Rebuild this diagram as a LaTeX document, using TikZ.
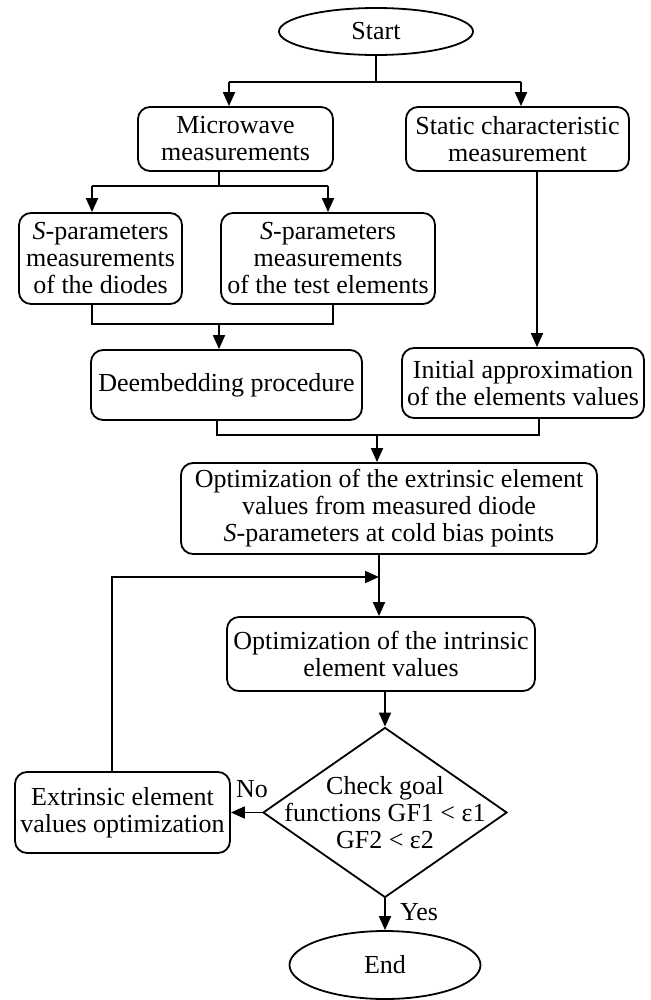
\documentclass[tikz,border=0pt]{standalone}
\usepackage{fontspec}
\setmainfont{Liberation Serif}
\usetikzlibrary{arrows.meta,shapes.geometric}

\begin{document}
\begin{tikzpicture}[x=0.5pt, y=-0.5pt, line width=0.9pt,
  font=\fontsize{13}{13.5}\selectfont,
  proc/.style={draw, rounded corners=6pt, align=center, inner sep=1pt},
  term/.style={draw, ellipse, inner sep=0pt},
  cond/.style={draw, diamond, inner sep=0pt},
  arr/.style={-{Triangle[length=7pt, width=6pt]}}]
  \useasboundingbox (0,0) rectangle (651,1000);
  % blocks
  \node[term, minimum width=97pt, minimum height=23.5pt] (start) at (376,31.5) {Start};
  \node[proc, minimum width=97.5pt, minimum height=32pt] (microwave) at (235.5,139) {Microwave\\measurements};
  \node[proc, minimum width=111.5pt, minimum height=32pt] (static) at (517.5,139) {Static characteristic\\measurement};
  \node[proc, minimum width=81.5pt, minimum height=45.5pt] (sdiode) at (100.5,258.5) {\textit{S}-parameters\\measurements\\of the diodes};
  \node[proc, minimum width=107pt, minimum height=45.5pt] (stest) at (328,258.5) {\textit{S}-parameters\\measurements\\of the test elements};
  \node[proc, minimum width=135.5pt, minimum height=35pt] (deembed) at (226.5,385) {Deembedding procedure};
  \node[proc, minimum width=121pt, minimum height=35pt] (initial) at (523,383) {Initial approximation\\of the elements values};
  \node[proc, minimum width=208pt, minimum height=45.5pt] (optext) at (389,508.5) {Optimization of the extrinsic element\\values from measured diode\\\textit{S}-parameters at cold bias points};
  \node[proc, minimum width=154pt, minimum height=37pt] (optint) at (381,654) {Optimization of the intrinsic\\element values};
  \node[cond, minimum width=122pt, minimum height=85pt] (check) at (385,812.5) {};
  \node[align=center, inner sep=0pt] (checktxt) at (check) {Check goal\\functions GF1 < ε1\\GF2 < ε2};
  \node[proc, minimum width=107.5pt, minimum height=40.5pt] (extr) at (122.5,812.5) {Extrinsic element\\values optimization};
  \node[term, minimum width=95.5pt, minimum height=34pt] (end) at (385,965) {End};
  \node (no) at (252,789) {No};
  \node (yes) at (419,912) {Yes};
  % junctions
  \coordinate (j1) at (376,82);  \coordinate (j1l) at (229,82);  \coordinate (j1r) at (521,82);
  \coordinate (j2) at (219,186); \coordinate (j2l) at (92,186);  \coordinate (j2r) at (328,186);
  \coordinate (j3) at (219,324); \coordinate (j3l) at (92,324);  \coordinate (j3r) at (333,324);
  \coordinate (j4) at (377,435); \coordinate (j4l) at (217,435); \coordinate (j4r) at (539,435);
  \coordinate (sx) at (537,250);
  \coordinate (fb) at (112,577); \coordinate (fbend) at (379,577);
  % connectors
  \draw (start.south -| j1) -- (j1);
  \draw (j1l) -- (j1r);
  \draw[arr] (j1l) -- (microwave.north -| j1l);
  \draw[arr] (j1r) -- (static.north -| j1r);
  \draw (microwave.south -| j2) -- (j2);
  \draw (j2l) -- (j2r);
  \draw[arr] (j2l) -- (sdiode.north -| j2l);
  \draw[arr] (j2r) -- (stest.north -| j2r);
  \draw[arr] (static.south -| sx) -- (initial.north -| sx);
  \draw (sdiode.south -| j3l) -- (j3l) -- (j3r) -- (stest.south -| j3r);
  \draw[arr] (j3) -- (deembed.north -| j3);
  \draw (deembed.south -| j4l) -- (j4l) -- (j4r) -- (initial.south -| j4r);
  \draw[arr] (j4) -- (optext.north -| j4);
  \draw[arr] (optext.south -| fbend) -- (optint.north -| fbend);
  \draw[arr] (extr.north -| fb) -- (fb) -- (fbend);
  \draw[arr] (optint.south -| check.north) -- (check.north);
  \draw[arr] (check.west) -- (extr.east);
  \draw[arr] (check.south) -- (end.north);
\end{tikzpicture}
\end{document}
